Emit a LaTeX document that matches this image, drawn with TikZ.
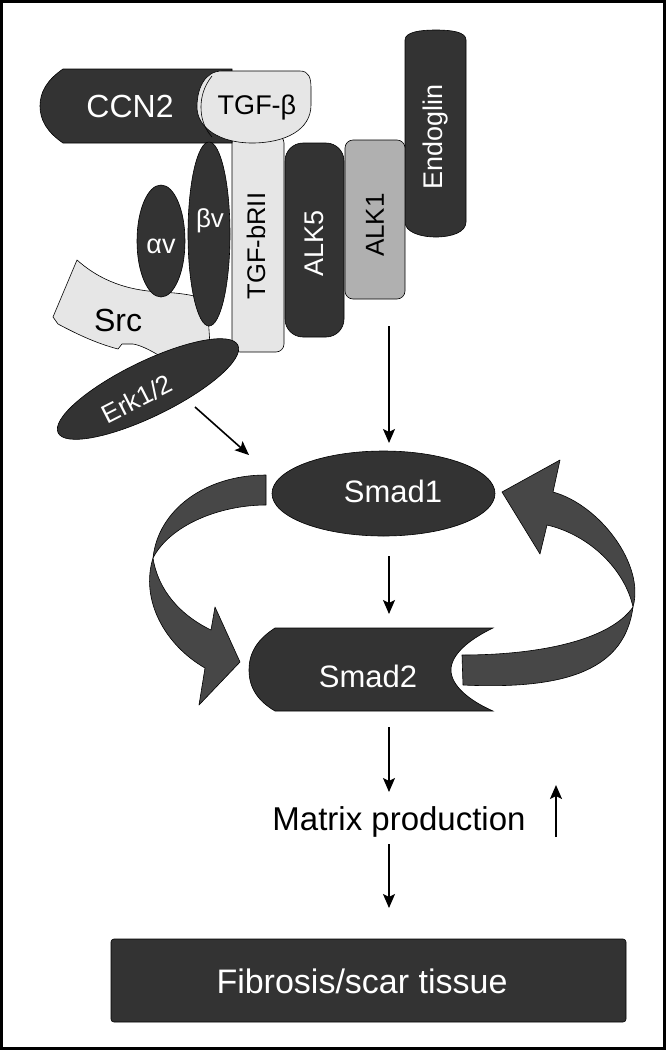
\documentclass[tikz,border=0pt]{standalone}
\usepackage{fontspec}
\setmainfont{Liberation Sans}
\usetikzlibrary{shapes.geometric,arrows.meta}
\definecolor{dk}{HTML}{333333}
\definecolor{bandc}{HTML}{474747}
\definecolor{lt}{HTML}{E6E6E6}
\definecolor{md}{HTML}{B0B0B0}
\newcommand\myfs[1]{\fontsize{#1}{#1}\selectfont}
\tikzset{
  darkshape/.style={fill=dk, draw=black, line width=0.6pt},
  lightshape/.style={fill=lt, draw=black, line width=0.6pt},
  wlab/.style={text=white, inner sep=0pt},
  blab/.style={text=black, inner sep=0pt},
  arr/.style={line width=1.6pt, -{Stealth[length=14pt,width=12pt,inset=3pt]}},
  band/.style={fill=bandc, draw=black, line width=0.6pt, line join=round},
}
\begin{document}
\begin{tikzpicture}[x=1pt, y=-1pt]
\useasboundingbox (0,0) rectangle (667,1050);
\fill[white] (0,0) rectangle (667,1050);
\draw[line width=3pt] (1.5,1.5) rectangle (664.5,1048.5);

% Endoglin
\path[darkshape] (405,40) .. controls (405,32) and (420,30) .. (436,30) .. controls (452,30) and (466,32) .. (466,40) -- (466,222) .. controls (466,232) and (452,237) .. (436,237) .. controls (420,237) and (405,232) .. (405,222) -- cycle;
% receptors
\node[fill=md, draw=black, line width=0.6pt, rounded corners=8pt, minimum width=60pt, minimum height=159pt, inner sep=0pt] (alkA) at (375,219.5) {};
\node[darkshape, rounded corners=18pt, minimum width=59pt, minimum height=194pt, inner sep=0pt] (alkB) at (314.5,240) {};
\node[lightshape, rounded corners=8pt, minimum width=52pt, minimum height=217pt, inner sep=0pt] (rII) at (258,243.5) {};

% CCN2
\path[darkshape] (63,69) -- (232,69) -- (232,143) -- (63,143) .. controls (47,132) and (40,120) .. (40,106) .. controls (40,92) and (47,80) .. (63,69) -- cycle;
% TGF-beta
\path[lightshape] (222,71) -- (300,71) .. controls (309,71) and (311,78) .. (311,88) -- (311,105) .. controls (311,130) and (285,143) .. (252,143) .. controls (220,143) and (197,128) .. (197,107) .. controls (197,88) and (205,71) .. (222,71) -- cycle;
\draw[line width=0.6pt] (212,76) .. controls (204,86) and (201,97) .. (201,107) .. controls (201,118) and (204,128) .. (212,137);

% Src
\path[lightshape] (77,260) .. controls (95,276) and (120,290) .. (160,292) .. controls (180,293) and (195,295) .. (207,300) -- (210,345) -- (160,356) .. controls (150,350) and (140,345) .. (133,344) -- (122,344) -- (118,349) .. controls (95,343) and (75,333) .. (58,324) -- (53,317) -- cycle;

% integrins
\node[darkshape, ellipse, minimum width=48pt, minimum height=112pt, inner sep=0pt] (av) at (161,241) {};
\node[darkshape, ellipse, minimum width=42pt, minimum height=184pt, inner sep=0pt] (bv) at (209,234) {};
% Erk
\node[darkshape, ellipse, rotate=26, minimum width=200pt, minimum height=55pt, inner sep=0pt] (erk) at (148,389) {};

% labels
\node[wlab, anchor=base, font=\myfs{32}] (ccntxt) at (130,117) {CCN2};
\node[blab, anchor=base, font=\myfs{27}] (tgfbtxt) at (257,114) {TGF-β};
\node[wlab, rotate=90, font=\myfs{27}] (endotxt) at (436,137) {Endoglin};
\node[blab, rotate=90, font=\myfs{26}] (alkAtxt) at (375,225) {ALK1};
\node[wlab, rotate=90, font=\myfs{27}] (alkBtxt) at (314,243) {ALK5};
\node[blab, rotate=90, font=\myfs{25.5}] (rIItxt) at (256,246) {TGF-bRII};
\node[wlab, anchor=base, font=\myfs{26}] (bvtxt) at (210,227) {βv};
\node[wlab, anchor=base, font=\myfs{27}] (avtxt) at (161,253) {αv};
\node[blab, anchor=base, font=\myfs{32}] (srctxt) at (118,331) {Src};
\node[wlab, rotate=27, font=\myfs{26}] (erktxt) at (137,399) {Erk1/2};

% Smads
\node[darkshape, ellipse, minimum width=223pt, minimum height=85pt, inner sep=0pt] (smadA) at (383.5,493.5) {};
\node[wlab, anchor=base, font=\myfs{31}] (smadAtxt) at (393,502) {Smad1};
\path[darkshape] (275,628) -- (493,628) .. controls (468,640) and (451,655) .. (451,670) .. controls (451,685) and (468,700) .. (493,711) -- (275,711) .. controls (258,701) and (249,688) .. (249,670) .. controls (249,652) and (258,639) .. (275,628) -- cycle;
\node[wlab, anchor=base, font=\myfs{31}] (smadBtxt) at (368,687) {Smad2};

% curved arrows (left)
\path[band] (266,475) -- (266,505) .. controls (220,505) and (170,525) .. (153,558) .. controls (158,510) and (205,475) .. (266,475) -- cycle;
\path[band] (153,558) .. controls (140,600) and (165,645) .. (205,668) -- (199,705) -- (240,662) -- (215,607) -- (211,630) .. controls (180,615) and (158,590) .. (153,558) -- cycle;
% curved arrows (right)
\path[band] (462,655) -- (463,685) .. controls (570,690) and (625,668) .. (633,607) .. controls (610,640) and (540,655) .. (462,655) -- cycle;
\path[band] (633,607) .. controls (645,565) and (600,505) .. (553,492) -- (560,460) -- (502,492) -- (540,554) -- (547,525) .. controls (590,535) and (625,570) .. (633,607) -- cycle;

% matrix + fibrosis
\node[blab, anchor=base, font=\myfs{33}] (matrix) at (399,830) {Matrix production};
\node[darkshape, rounded corners=3pt, minimum width=515pt, minimum height=83pt, inner sep=0pt] (fib) at (368.5,980.5) {};
\node[wlab, anchor=base, font=\myfs{34}] (fibtxt) at (362,993) {Fibrosis/scar tissue};

% connectors
\coordinate (alkout) at (389,326);
\coordinate (sAin) at (389,443);
\coordinate (erkout) at (195,407);
\coordinate (sAleft) at (249,455);
\coordinate (sAout) at (389,556);
\coordinate (sBin) at (389,614);
\coordinate (sBout) at (389,727);
\coordinate (mxin) at (389,792);
\coordinate (mxout) at (389,844);
\coordinate (fibin) at (389,908);
\coordinate (upfrom) at (556,837);
\coordinate (upto) at (556,785);
\draw[arr] (alkout) -- (sAin);
\draw[arr] (erkout) -- (sAleft);
\draw[arr] (sAout) -- (sBin);
\draw[arr] (sBout) -- (mxin);
\draw[arr] (mxout) -- (fibin);
\draw[arr, line width=2pt] (upfrom) -- (upto);
\end{tikzpicture}
\end{document}
